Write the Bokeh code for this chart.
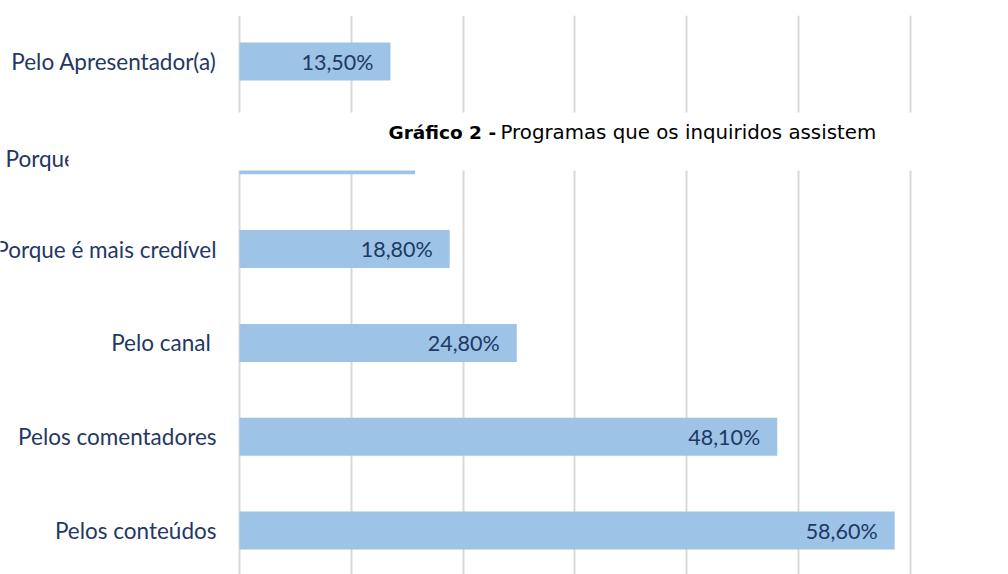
from bokeh.plotting import figure
from bokeh.models import ColumnDataSource
from bokeh.core.properties import value
from bokeh.embed import file_html
from bokeh.resources import INLINE

categories = ["Pelos conteúdos", "Pelos comentadores", "Pelo canal ", "Porque é mais credível", "Porque", "Pelo Apresentador(a)"]
values = [58.6, 48.1, 24.8, 18.8, 15.7, 13.5]
labels = ["58,60%", "48,10%", "24,80%", "18,80%", "15,70%", "13,50%"]
title_bold = "Gráfico 2 -"
title_rest = "Programas que os inquiridos assistem"
grid_ticks = [0, 10, 20, 30, 40, 50, 60]

W, H = 1008, 574
PX = 11.18   # px per percent
X0 = 239     # px of zero
ROW = 93.8   # px per category
TOP = 15

x_start = -X0 / PX
x_end = (W - X0) / PX
y_top = 5 + (61 - TOP) / ROW
y_bot = -(574 - 530) / ROW

p = figure(width=W, height=H, output_backend="svg", toolbar_location=None,
           x_range=(x_start, x_end), y_range=(y_bot, y_top),
           min_border_left=0, min_border_right=0, min_border_top=TOP, min_border_bottom=0)
p.axis.visible = False
p.outline_line_color = None
p.background_fill_color = "white"
p.ygrid.grid_line_color = None
p.xgrid.ticker = grid_ticks
p.xgrid.grid_line_color = "#D9D9D9"
p.xgrid.grid_line_width = 2

ys = list(range(len(categories)))
src = ColumnDataSource(dict(y=ys, v=values, cat=categories, lab=labels,
                            lx=[v - 17 / PX for v in values]))

p.hbar(y="y", right="v", left=0, height=38 / ROW, source=src, fill_color="#9DC3E6", line_color=None)
p.text(x="lx", y="y", text="lab", source=src, text_align="right", text_baseline="middle",
       text_font=value("Lato"), text_font_size="21.5px", text_color="#1F3864")

# category labels (all but the one hidden under the title box)
vis = [0, 1, 2, 3, 5]
cat_src = ColumnDataSource(dict(y=vis, cat=[categories[i] for i in vis],
                                x=[(216 - X0) / PX] * len(vis)))
p.text(x="x", y="y", text="cat", source=cat_src, text_align="right", text_baseline="middle",
       text_font=value("Lato"), text_font_size="22.5px", text_color="#1F3864")
p.text(x=[(5 - X0) / PX], y=[5 - (158 - 61) / ROW], text=[categories[4]], text_align="left", text_baseline="middle",
       text_font=value("Lato"), text_font_size="22.5px", text_color="#1F3864")

# white title box covering part of the chart
p.quad(left=[(68 - X0) / PX], right=[x_end], bottom=[5 - (170 - 61) / ROW], top=[5 - (112 - 61) / ROW],
       fill_color="white", line_color=None)

ty = 5 - (132 - 61) / ROW
p.text(x=[(388 - X0) / PX], y=[ty], text=[title_bold], text_align="left", text_baseline="middle",
       text_font=value("DejaVu Sans"), text_font_style="bold", text_font_size="18.5px", text_color="black")
p.text(x=[(500 - X0) / PX], y=[ty], text=[title_rest], text_align="left", text_baseline="middle",
       text_font=value("DejaVu Sans"), text_font_size="19.8px", text_color="black")

open("out.html", "w").write(file_html(p, INLINE))
